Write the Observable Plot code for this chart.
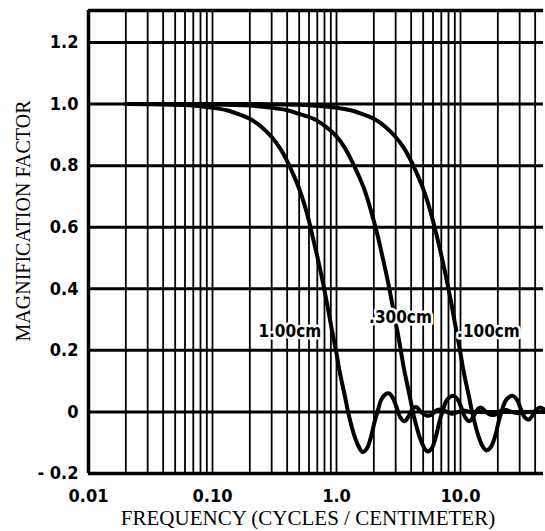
<!DOCTYPE html>
<html><head><meta charset="utf-8">
<script src="https://cdn.jsdelivr.net/npm/d3@7"></script>
<script src="https://cdn.jsdelivr.net/npm/@observablehq/plot@0.6"></script>
<style>body{margin:0;background:#fff}</style>
</head><body><div id="chart"></div>
<script>
// ---- data ----
const freq100cm = [0.02,0.04,0.06,0.08,0.10,0.13,0.16,0.20,0.25,0.30,0.35,0.40,0.45,0.50,0.55,0.60,0.65,0.70,0.75,0.80,0.85,0.90,0.95,1.00,1.05,1.10,1.17,1.24,1.32,1.40,1.50,1.62,1.75,1.90,2.02,2.14,2.30,2.50,2.65,2.85,3.05,3.30,3.55,3.80,4.10,4.40,4.80,5.30,5.80,6.40,7.0,7.8,8.6,9.6,10.6,12,16,25,46.7];
const mag100cm  = [1.0,0.999,0.997,0.993,0.988,0.98,0.968,0.952,0.925,0.893,0.857,0.815,0.77,0.725,0.675,0.62,0.56,0.505,0.45,0.395,0.34,0.285,0.235,0.19,0.14,0.10,0.05,0.0,-0.045,-0.08,-0.11,-0.13,-0.12,-0.08,-0.035,0.0,0.04,0.058,0.06,0.045,0.015,-0.02,-0.03,-0.015,0.01,0.016,0.0,-0.012,-0.01,0.005,0.008,0.0,-0.006,0.0,0.005,0,0,0,0];

const freq300cm = [0.02,0.1,0.2,0.3,0.4,0.5,0.67,0.83,1.0,1.17,1.33,1.5,1.67,1.83,2.0,2.17,2.33,2.5,2.67,2.83,3.0,3.17,3.33,3.5,3.67,3.9,4.13,4.4,4.67,5.0,5.4,5.83,6.33,6.73,7.13,7.67,8.33,8.83,9.5,10.2,11.0,11.8,12.7,13.7,14.7,16.0,17.7,19.3,21.3,23.3,26,30,35,46.7];
const mag300cm  = [1.0,0.999,0.995,0.988,0.98,0.968,0.95,0.925,0.895,0.857,0.815,0.77,0.725,0.675,0.62,0.565,0.51,0.455,0.40,0.345,0.29,0.24,0.19,0.14,0.10,0.05,0.0,-0.045,-0.08,-0.11,-0.128,-0.12,-0.08,-0.035,0.0,0.035,0.05,0.052,0.04,0.012,-0.02,-0.03,-0.015,0.008,0.014,0.0,-0.01,-0.008,0.004,0.006,0,-0.004,0,0];

const freq100mm = [0.02,0.2,0.5,1.0,1.3,1.6,2.0,2.5,3.0,3.5,4.0,4.5,5.0,5.5,6.0,6.5,7.0,7.5,8.0,8.5,9.0,9.5,10.0,10.5,11.0,11.7,12.4,13.2,14.0,15.0,16.2,17.5,19.0,20.2,21.4,23.0,25.0,26.5,28.5,30.5,33.0,35.5,38.0,41.0,44.0,46.7];
const mag100mm  = [1.0,1.0,0.998,0.988,0.98,0.968,0.952,0.925,0.893,0.857,0.815,0.77,0.725,0.675,0.62,0.565,0.51,0.455,0.40,0.345,0.29,0.24,0.19,0.14,0.10,0.05,0.0,-0.045,-0.08,-0.11,-0.125,-0.115,-0.08,-0.035,0.0,0.035,0.05,0.052,0.04,0.012,-0.018,-0.025,-0.012,0.008,0.014,0.01];

const seriesNames = ["1.00cm", ".300cm", ".100cm"];
const labelFreq = [0.42, 3.28, 16.8];
const labelMag  = [0.26, 0.306, 0.26];

const xTicks = [0.01, 0.1, 1, 10];
const xTickLabels = ["0.01", "0.10", "1.0", "10.0"];
const yTicks = [-0.2, 0, 0.2, 0.4, 0.6, 0.8, 1.0, 1.2];
const yTickLabels = ["- 0.2", "0", "0.2", "0.4", "0.6", "0.8", "1.0", "1.2"];
const gridX = [0.02,0.03,0.04,0.05,0.06,0.07,0.08,0.09,0.1,0.2,0.3,0.4,0.5,0.6,0.7,0.8,0.9,1,2,3,4,5,6,7,8,9,10,20,30,40];
const gridY = [0, 0.2, 0.4, 0.6, 0.8, 1.0, 1.2];
const xDomain = [0.01, 46.7];
const yDomain = [-0.2, 1.304];
const xTitle = "FREQUENCY (CYCLES / CENTIMETER)";
const yTitle = "MAGNIFICATION FACTOR";

// ---- build tables ----
const rows = [];
[[freq100cm, mag100cm], [freq300cm, mag300cm], [freq100mm, mag100mm]].forEach(([fs, vs], k) => {
  fs.forEach((f, i) => rows.push({series: seriesNames[k], f, v: vs[i]}));
});
const labels = seriesNames.map((s, i) => ({s, f: labelFreq[i], v: labelMag[i]}));
const xLab = new Map(xTicks.map((t, i) => [t, xTickLabels[i]]));
const yLab = new Map(yTicks.map((t, i) => [t, yTickLabels[i]]));

const tickFont = '"DejaVu Sans Condensed","Liberation Sans Narrow","DejaVu Sans",sans-serif';
const titleFont = '"Liberation Serif","Times New Roman",serif';

const chart = Plot.plot({
  width: 545, height: 531,
  marginLeft: 88, marginRight: 2, marginTop: 10, marginBottom: 58,
  style: {background: "#fff", color: "#000", fontFamily: tickFont},
  x: {type: "log", domain: xDomain},
  y: {domain: yDomain},
  marks: [
    Plot.ruleX(gridX, {stroke: "#000", strokeWidth: 1.8}),
    Plot.ruleY(gridY, {stroke: "#000", strokeWidth: 3}),
    Plot.ruleX([xDomain[0]], {stroke: "#000", strokeWidth: 3.5}),
    Plot.ruleY([yDomain[0], yDomain[1]], {stroke: "#000", strokeWidth: 3.5}),
    Plot.line(rows, {x: "f", y: "v", z: "series", curve: "catmull-rom", stroke: "#000", strokeWidth: 4}),
    Plot.text(labels, {x: "f", y: "v", text: "s", fontSize: 17, fontWeight: "bold", fill: "#000", stroke: "#fff", strokeWidth: 5}),
    Plot.axisY(yTicks, {tickSize: 0, tickPadding: 10, tickFormat: d => yLab.get(d), fontSize: 18, fontWeight: "bold", label: null}),
    Plot.axisX(xTicks, {tickSize: 0, tickPadding: 16, tickFormat: d => xLab.get(d), fontSize: 18, fontWeight: "bold", label: null}),
    Plot.text([xTitle], {frameAnchor: "bottom", textAnchor: "middle", lineAnchor: "middle", dy: 45, dx: -8, fontFamily: titleFont, fontSize: 21}),
    Plot.text([yTitle], {frameAnchor: "left", textAnchor: "middle", lineAnchor: "middle", rotate: -90, dx: -65, dy: -21, fontFamily: titleFont, fontSize: 20})
  ]
});
document.getElementById("chart").appendChild(chart);
</script>
</body></html>
